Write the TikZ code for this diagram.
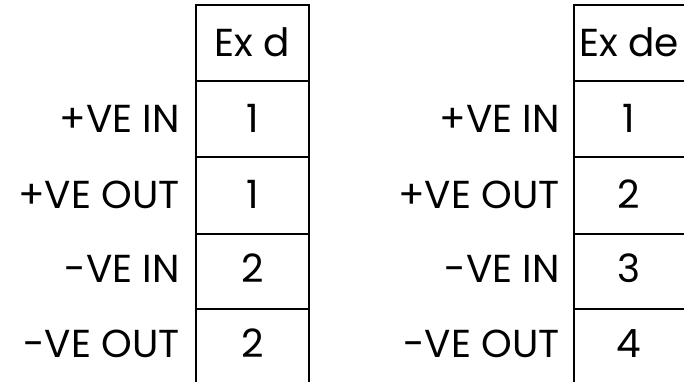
\documentclass[tikz,border=0pt]{standalone}
\usepackage{fontspec}
\setmainfont{Poppins}
\usetikzlibrary{positioning}

\begin{document}
\begin{tikzpicture}[x=1pt, y=-1pt,
rowlabel/.style={
    anchor=base east,
    inner sep=0pt,
    font=\fontsize{39}{42}\selectfont
    },
cell/.style={
    anchor=base,
    inner sep=0pt,
    font=\fontsize{39}{42}\selectfont
    },
rule/.style={line width=1.6pt}
]
\useasboundingbox (0,0) rectangle (684,382);

% left table
\draw[rule] (196,382) -- (196,5) -- (309,5) -- (309,382);
\foreach \y in {81,157,234,309}
    \draw[rule] (196,\y) -- (309,\y);

\node[cell] (dhead) at (252.5,57) {Ex d};
\node[cell] (d1) at (252.5,132) {1};
\node[cell] (d2) at (252.5,208) {1};
\node[cell] (d3) at (252.5,282) {2};
\node[cell] (d4) at (252.5,357) {2};

\node[rowlabel] (lpin) at (180,132) {+VE IN};
\node[rowlabel] (lpout) at (180,208) {+VE OUT};
\node[rowlabel] (lnin) at (180,282) {-VE IN};
\node[rowlabel] (lnout) at (180,357) {-VE OUT};

% right table
\draw[rule] (574,382) -- (574,5) -- (684,5);
\foreach \y in {81,157,234,309}
    \draw[rule] (574,\y) -- (684,\y);

\node[cell] (dehead) at (629,57) {Ex de};
\node[cell] (de1) at (629,132) {1};
\node[cell] (de2) at (629,208) {2};
\node[cell] (de3) at (629,282) {3};
\node[cell] (de4) at (629,357) {4};

\node[rowlabel] (rpin) at (560,132) {+VE IN};
\node[rowlabel] (rpout) at (560,208) {+VE OUT};
\node[rowlabel] (rnin) at (560,282) {-VE IN};
\node[rowlabel] (rnout) at (560,357) {-VE OUT};

\end{tikzpicture}
\end{document}
